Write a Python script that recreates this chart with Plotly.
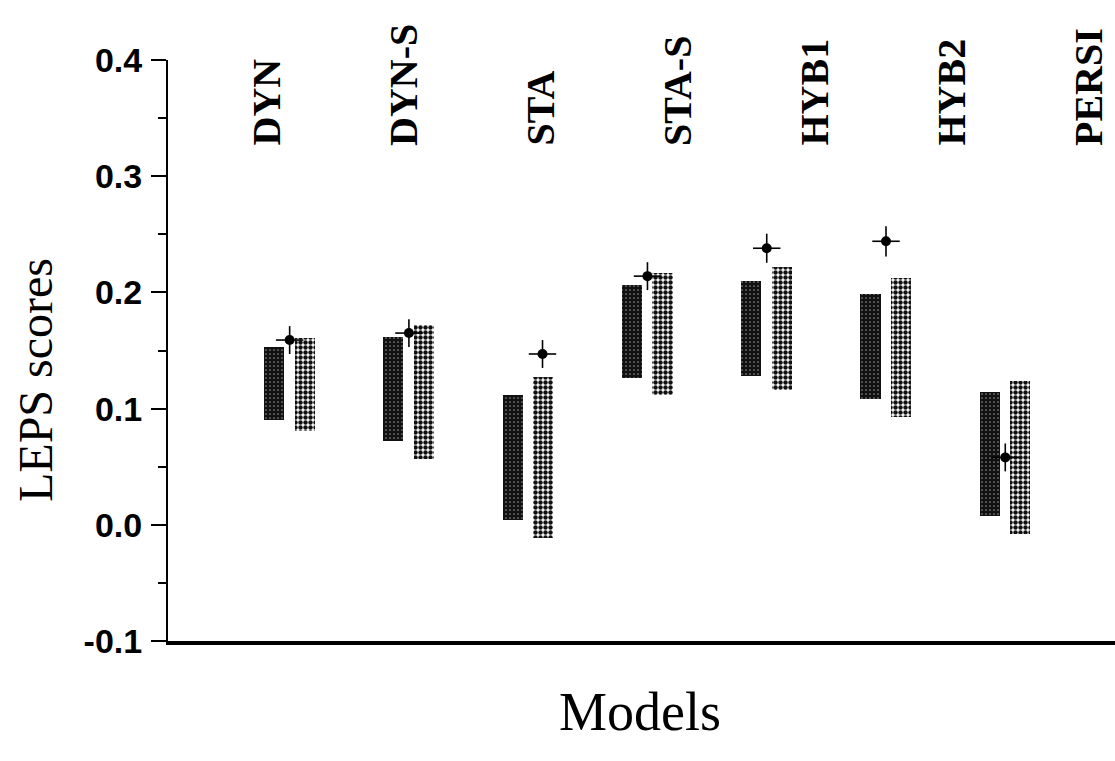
import plotly.graph_objects as go

# ---- data ----
models = ["DYN", "DYN-S", "STA", "STA-S", "HYB1", "HYB2", "PERSI"]
dark_low = [0.090, 0.072, 0.004, 0.126, 0.128, 0.108, 0.008]
dark_high = [0.153, 0.162, 0.112, 0.206, 0.210, 0.199, 0.114]
light_low = [0.081, 0.057, -0.011, 0.112, 0.116, 0.093, -0.008]
light_high = [0.161, 0.172, 0.127, 0.217, 0.222, 0.212, 0.124]
score = [0.159, 0.165, 0.147, 0.214, 0.238, 0.244, 0.058]
score_err = [0.012, 0.012, 0.012, 0.012, 0.0125, 0.013, 0.012]
marker_shift = [0, 0, 0.12, 0, 0, 0, 0]
y_ticks = [-0.1, 0.0, 0.1, 0.2, 0.3, 0.4]

# ---- layout constants ----
W, H = 1115, 761
ML, MR, MT, MB = 168, 0, 60, 120
PW, PH = W - ML - MR, H - MT - MB
BAR_W = 0.168

xpos = [i + 1 for i in range(len(models))]

fig = go.Figure()

fig.add_trace(go.Bar(
    x=xpos, y=[h - l for h, l in zip(dark_high, dark_low)], base=dark_low,
    width=BAR_W, offset=-0.214,
    marker=dict(color="#111111", line=dict(width=0),
                pattern=dict(shape=".", fgcolor="#8a8a8a", bgcolor="#111111",
                             size=4, solidity=0.15, fillmode="replace")),
    showlegend=False, hoverinfo="skip"))

fig.add_trace(go.Bar(
    x=xpos, y=[h - l for h, l in zip(light_high, light_low)], base=light_low,
    width=BAR_W, offset=0.042,
    marker=dict(color="white", line=dict(width=0),
                pattern=dict(shape=".", fgcolor="#111111", bgcolor="white",
                             size=5, solidity=0.62, fillmode="replace")),
    showlegend=False, hoverinfo="skip"))

fig.add_trace(go.Scatter(
    x=[x + s for x, s in zip(xpos, marker_shift)], y=score, mode="markers",
    marker=dict(color="black", size=10),
    error_y=dict(type="data", array=score_err, color="black", thickness=1.6, width=0),
    error_x=dict(type="constant", value=0.115, color="black", thickness=1.6, width=0),
    showlegend=False, hoverinfo="skip"))

annotations = []
label_x0, label_dx = 266, 137.0
for i, m in enumerate(models):
    px = label_x0 + i * label_dx
    annotations.append(dict(
        text=m, xref="paper", yref="paper",
        x=(px - ML) / PW, y=(H - MB - 148) / PH,
        xanchor="center", yanchor="bottom", textangle=-90, showarrow=False,
        font=dict(family="Liberation Serif", size=40, color="black", weight="bold")))

annotations.append(dict(
    text="LEPS scores", xref="paper", yref="paper",
    x=(35 - ML) / PW, y=(H - MB - 380) / PH, xanchor="center", yanchor="middle",
    textangle=-90, showarrow=False,
    font=dict(family="Liberation Serif", size=48, color="black")))
annotations.append(dict(
    text="Models", xref="paper", yref="paper",
    x=(640 - ML) / PW, y=-(712 - (H - MB)) / PH, xanchor="center", yanchor="middle",
    showarrow=False,
    font=dict(family="Liberation Serif", size=54, color="black")))

fig.update_layout(
    width=W, height=H, margin=dict(l=ML, r=MR, t=MT, b=MB, pad=0),
    paper_bgcolor="white", plot_bgcolor="white",
    barmode="overlay", bargap=0,
    annotations=annotations,
    xaxis=dict(range=[-0.02, 7.92], showgrid=False, zeroline=False,
               showticklabels=False, ticks="", showline=True,
               linecolor="black", linewidth=3.5),
    yaxis=dict(range=[-0.1, 0.4], tickvals=y_ticks,
               ticktext=[f"{v:.1f}" for v in y_ticks],
               showgrid=False, zeroline=False, showline=True,
               linecolor="black", linewidth=2,
               ticks="outside", ticklen=15, tickwidth=2, tickcolor="black",
               minor=dict(dtick=0.05, tick0=0, ticks="outside", ticklen=8,
                          tickwidth=2, tickcolor="black", showgrid=False),
               tickfont=dict(family="Liberation Sans", size=34, color="black",
                             weight="bold"),
               ticklabelstandoff=2),
)

fig.write_html(
    "out.html",
    config={"displayModeBar": False},
    post_script="document.body.style.margin='0';document.body.style.overflow='hidden';",
)
